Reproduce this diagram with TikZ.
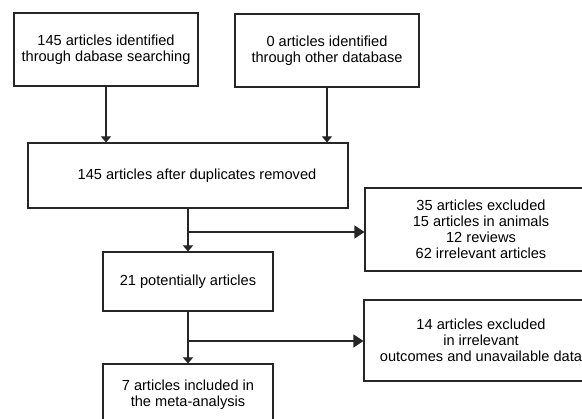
\documentclass[tikz,border=0pt]{standalone}
\usepackage{fontspec}
\setmainfont{Liberation Sans}
\usetikzlibrary{arrows.meta}
\begin{document}
\begin{tikzpicture}[x=1pt, y=-1pt,
  box/.style={draw=black!85, line width=1.1pt, inner sep=0pt, align=center,
    font=\fontsize{14.6}{16}\selectfont, text=black},
  down/.style={draw=black!85, line width=1.1pt, -{Triangle[width=10pt,length=6pt]}},
  side/.style={draw=black!85, line width=1.1pt, -{Triangle[width=13pt,length=10pt]}}]
\useasboundingbox (0,0) rectangle (582,419);
\clip (0,0) rectangle (582,419);
\node[box, minimum width=184pt, minimum height=73pt] (ident) at (106,49.5){145 articles identified\\through dabase searching};
\node[box, minimum width=184pt, minimum height=73pt] (other) at (327,50.5){0 articles identified\\through other database};
\node[box, minimum width=320pt, minimum height=65pt] (dedup) at (188,175.5){\hspace*{18pt}145 articles after duplicates removed};
\node[box, minimum width=232pt, minimum height=83pt] (excl1) at (481,229.5){35 articles excluded\\15 articles in animals\\12 reviews\\62 irrelevant articles};
\node[box, minimum width=170pt, minimum height=59pt] (pot) at (188,281.5){21 potentially articles};
\node[box, minimum width=234pt, minimum height=81pt] (excl2) at (481,340.5){14 articles excluded\\in irrelevant\\outcomes and unavailable data};
\node[box, minimum width=170pt, minimum height=62pt] (incl) at (188,395){7 articles included in\\the meta-analysis};
\coordinate (br1) at (188,232);
\coordinate (br2) at (188,341);
\draw[down] (ident.south) -- (ident.south |- dedup.north);
\draw[down] (other.south) -- (other.south |- dedup.north);
\draw[down] (dedup) -- (pot);
\draw[side] (br1) -- (br1 -| excl1.west);
\draw[down] (pot) -- (incl);
\draw[side] (br2) -- (br2 -| excl2.west);
\end{tikzpicture}
\end{document}
